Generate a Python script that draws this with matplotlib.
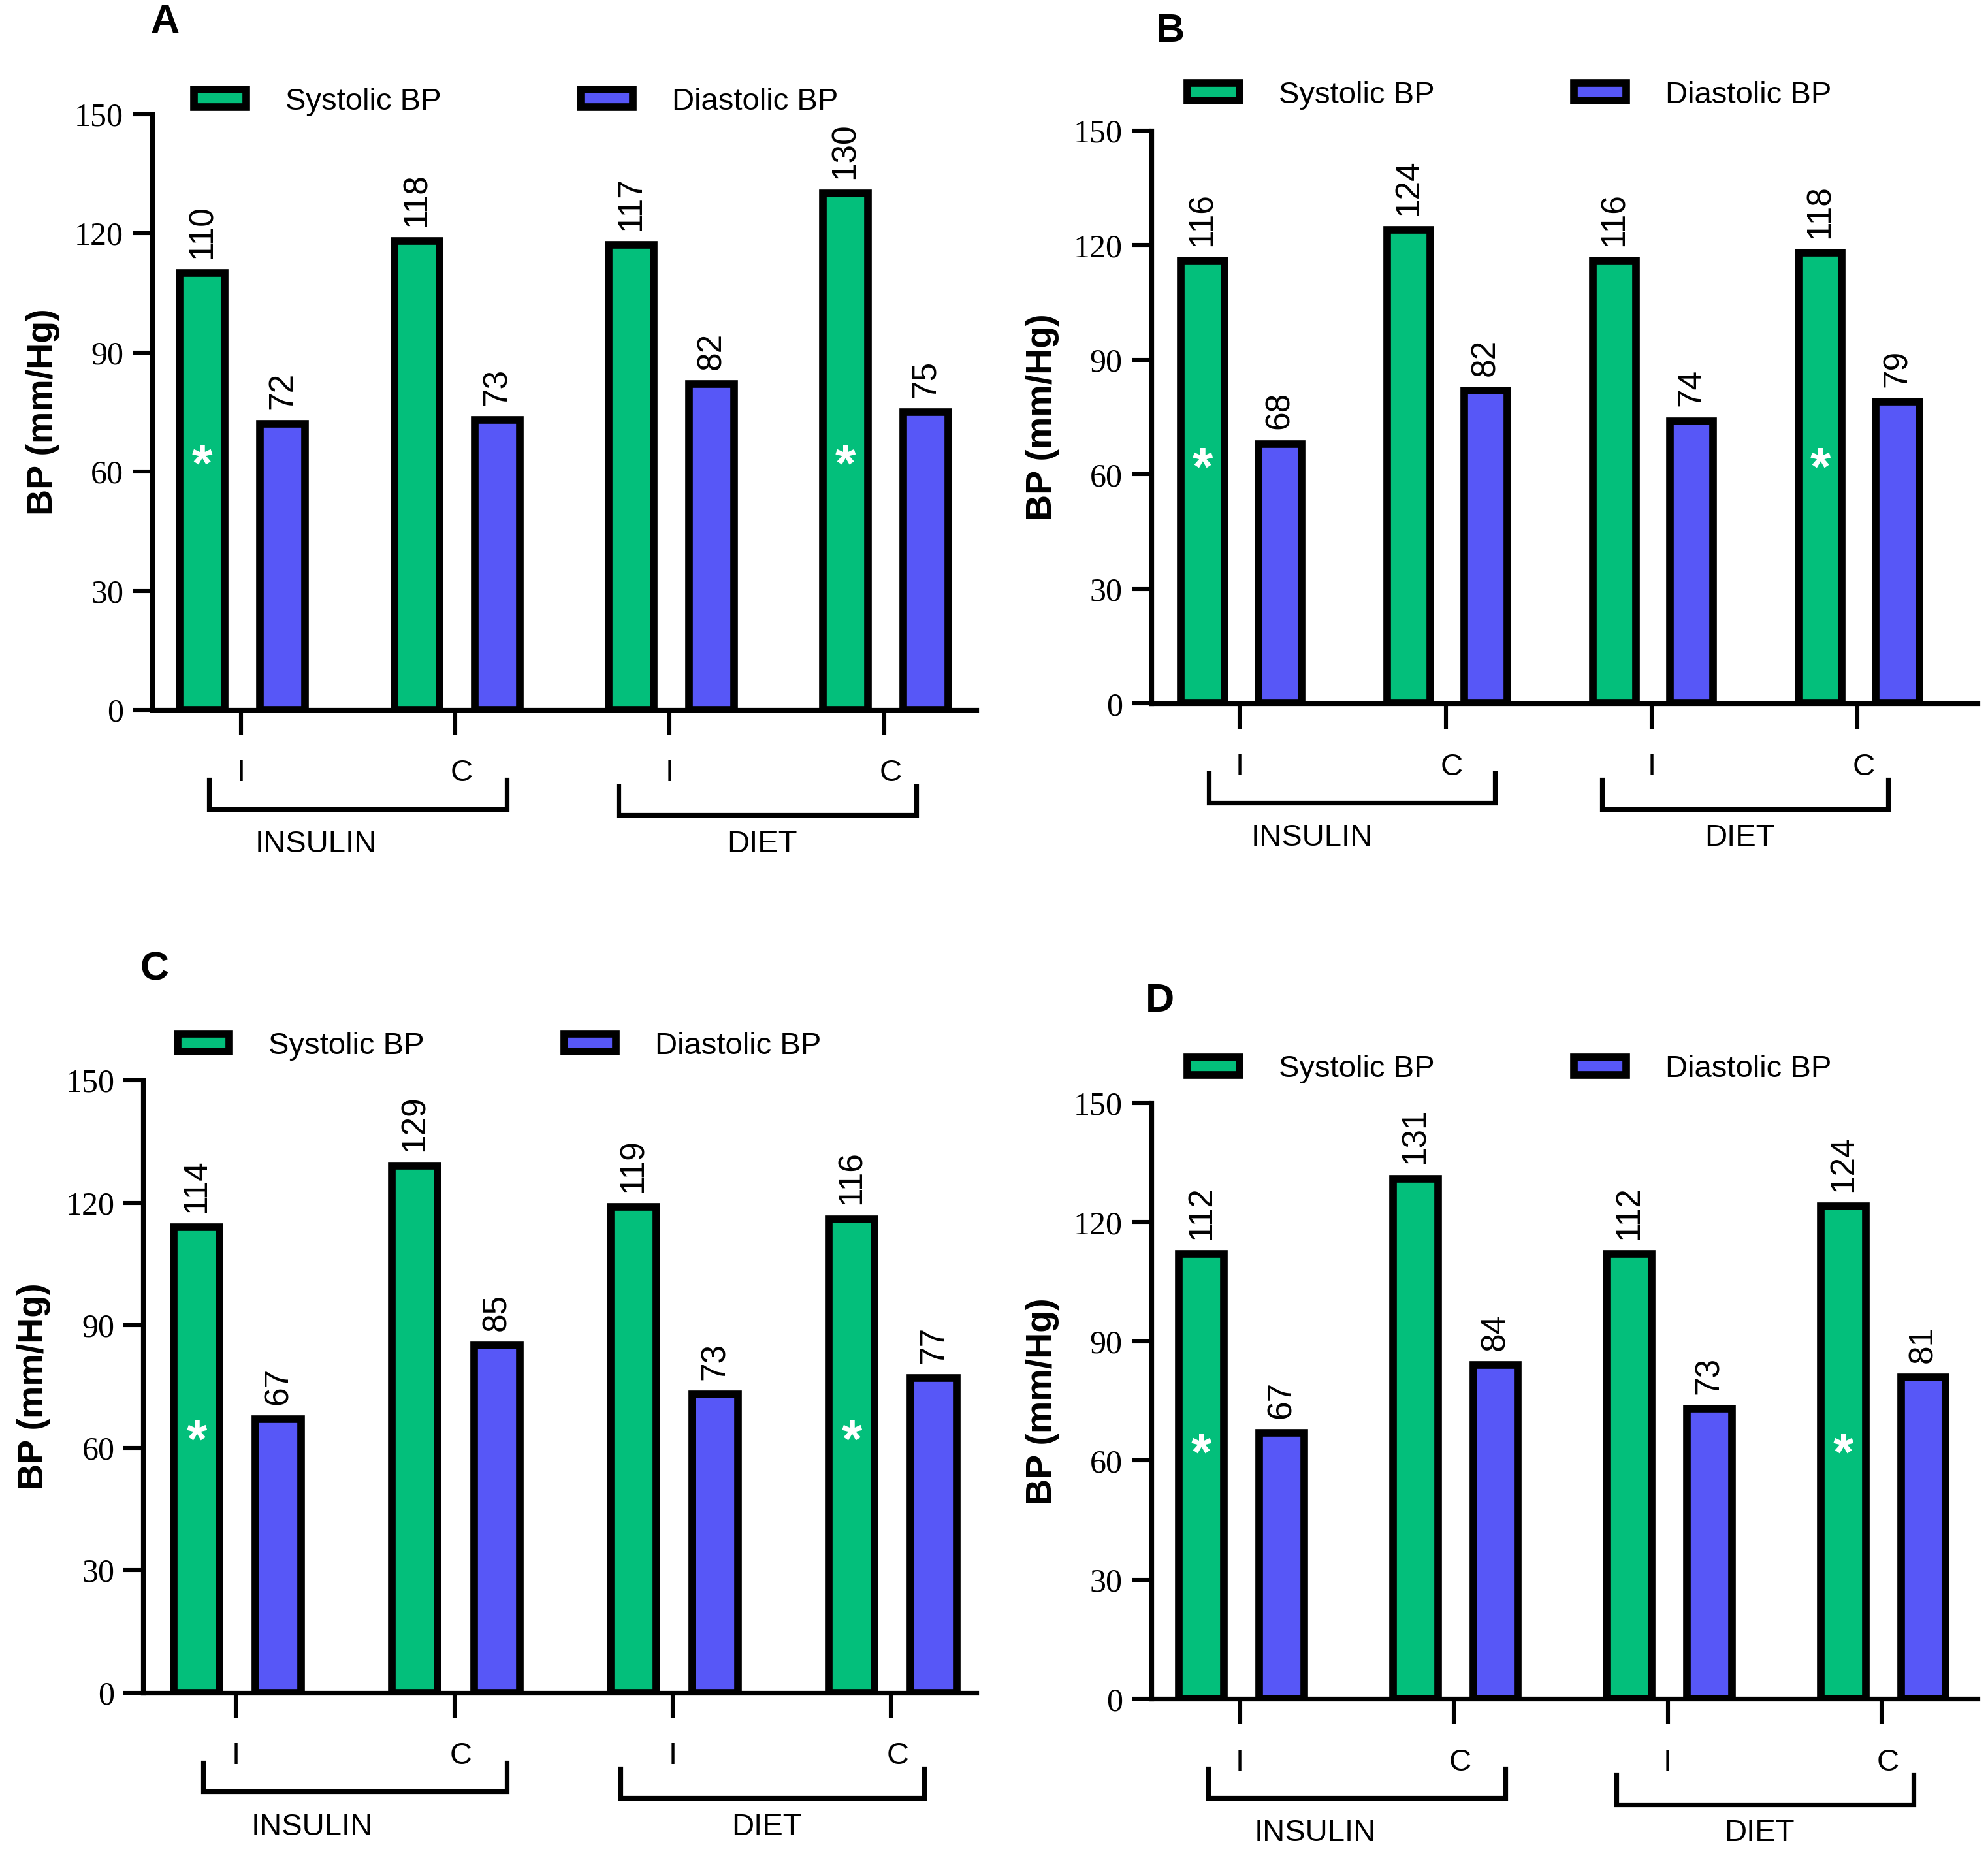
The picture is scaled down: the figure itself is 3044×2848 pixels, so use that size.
import matplotlib
matplotlib.use('Agg')
import numpy as np
import matplotlib.pyplot as plt
from matplotlib import font_manager

# values (Systolic / Diastolic BP, mm/Hg)
panels = ['A', 'B', 'C', 'D']
sub_labels = ['I', 'C', 'I', 'C']
group_names = ['INSULIN', 'DIET']
series_names = ['Systolic BP', 'Diastolic BP']

systolic_A = [110, 118, 117, 130]
diastolic_A = [72, 73, 82, 75]
systolic_B = [116, 124, 116, 118]
diastolic_B = [68, 82, 74, 79]
systolic_C = [114, 129, 119, 116]
diastolic_C = [67, 85, 73, 77]
systolic_D = [112, 131, 112, 124]
diastolic_D = [67, 84, 73, 81]

star_bars = [0, 3]     # systolic bars carrying a white asterisk
star_level = 64

GREEN = '#03BF7B'
BLUE = '#5757F7'

# the original uses a narrow font; fall back to a smaller regular one
try:
    font_manager.findfont('Liberation Sans Narrow', fallback_to_default=False)
    NARROW, NSIZE = 'Liberation Sans Narrow', 20
except ValueError:
    NARROW, NSIZE = 'Liberation Sans', 17

plt.rcParams['font.family'] = ['Liberation Sans', 'DejaVu Sans']

W, H = 1568.0, 1467.0   # layout measured on a half size copy

# axes box (left, right, bottom, top) and x limits for every panel
layout = {
    'A': dict(box=(120, 770, 560, 90), xlim=(-0.414, 3.43), leg=(0.051, 1.021), letter=(130, 18)),
    'B': dict(box=(908, 1560, 555, 103), xlim=(-0.43, 3.585), leg=(0.044, 1.062), letter=(923, 25)),
    'C': dict(box=(113, 770, 1335, 852), xlim=(-0.424, 3.39), leg=(0.041, 1.056), letter=(122, 765)),
    'D': dict(box=(908, 1560, 1340, 870), xlim=(-0.415, 3.45), leg=(0.044, 1.057), letter=(915, 790)),
}
data = {
    'A': (systolic_A, diastolic_A),
    'B': (systolic_B, diastolic_B),
    'C': (systolic_C, diastolic_C),
    'D': (systolic_D, diastolic_D),
}

fig = plt.figure(figsize=(15.22, 14.24), dpi=200)


def draw_panel(name):
    lay = layout[name]
    l, r, b, t = lay['box']
    ax = fig.add_axes([l / W, 1 - b / H, (r - l) / W, (b - t) / H])
    sys_v, dia_v = data[name]
    x = np.arange(len(sys_v))
    bw = 0.21
    b1 = ax.bar(x - 0.18, sys_v, bw, color=GREEN, edgecolor='black', linewidth=4.2,
                label=series_names[0])
    b2 = ax.bar(x + 0.195, dia_v, bw, color=BLUE, edgecolor='black', linewidth=4.2,
                label=series_names[1])
    for bars, vals in ((b1, sys_v), (b2, dia_v)):
        for rect, v in zip(bars, vals):
            ax.annotate(str(v), (rect.get_x() + rect.get_width() / 2, v),
                        xytext=(0, 8), textcoords='offset points', rotation=90,
                        ha='center', va='bottom', fontsize=18.5)
    for i in star_bars:
        ax.annotate('*', (x[i] - 0.18, star_level), xytext=(0, -14),
                    textcoords='offset points', ha='center', va='baseline',
                    color='white', fontsize=29, fontweight='bold')

    ax.set_ylim(0, 150)
    ax.set_xlim(*lay['xlim'])
    ax.set_yticks(range(0, 151, 30))
    ax.set_xticks(x)
    ax.set_xticklabels([])
    for lab in ax.get_yticklabels():
        lab.set_family('Liberation Serif')
    ax.tick_params(axis='y', length=10.8, width=2.2, pad=5, labelsize=18)
    ax.tick_params(axis='x', length=14, width=2.2)
    for s in ('top', 'right'):
        ax.spines[s].set_visible(False)
    for s in ('left', 'bottom'):
        ax.spines[s].set_linewidth(2.6)
    ax.set_ylabel('BP (mm/Hg)', fontsize=20, fontweight='bold', labelpad=8)

    # sub labels, brackets and group names under the axis
    k = 150.0 / (b - t)   # data units per measured pixel
    for i, lab in enumerate(sub_labels):
        dx = 0.03 if lab == 'C' else 0.0
        ax.text(x[i] + dx, -50 * k, lab, ha='center', va='center', fontsize=17,
                family=NARROW, clip_on=False)
    spans = [(x[0] - 0.15, x[1] + 0.24, 0), (x[2] - 0.24, x[3] + 0.15, 5)]
    mids = [0.5 - 0.15, 2.5 - 0.07]
    for (x0, x1, drop), gname, mx in zip(spans, group_names, mids):
        y0 = -(55 + drop) * k
        y1 = -(78 + drop) * k
        ax.plot([x0, x0, x1, x1], [y0, y1, y1, y0], color='black', lw=2.6,
                clip_on=False, solid_joinstyle='miter')
        ax.text(mx, -106 * k, gname, ha='center', va='center', fontsize=NSIZE,
                family=NARROW, clip_on=False)

    ax.legend(loc='center left', bbox_to_anchor=lay['leg'], ncol=2, frameon=False,
              borderaxespad=0, borderpad=0, handlelength=1.43 * 20 / NSIZE,
              handleheight=0.42 * 20 / NSIZE, handletextpad=1.08 * 20 / NSIZE,
              columnspacing=3.85 * 20 / NSIZE,
              prop={'family': NARROW, 'size': NSIZE})

    lx, ly = lay['letter']
    fig.text(lx / W, 1 - ly / H, name, ha='center', va='center', fontsize=22,
             fontweight='bold')


for p in panels:
    draw_panel(p)

fig.savefig('out.png', dpi=200, facecolor='white')
